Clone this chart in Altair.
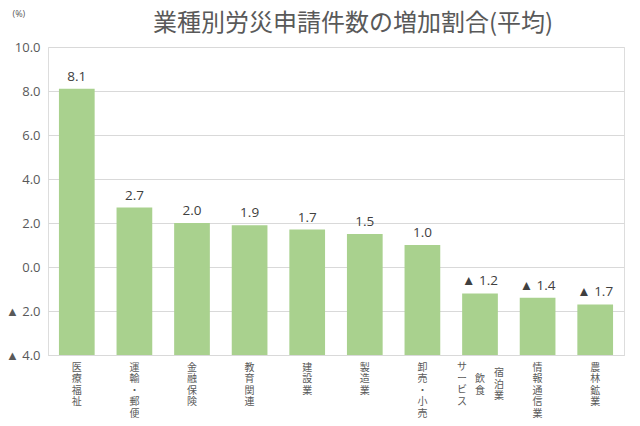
import altair as alt
import pandas as pd

categories = ["医療福祉", "運輸・郵便", "金融保険", "教育関連", "建設業",
              "製造業", "卸売・小売", "宿泊業、飲食サービス", "情報通信業", "農林鉱業"]
values = [8.1, 2.7, 2.0, 1.9, 1.7, 1.5, 1.0, -1.2, -1.4, -1.7]
y_ticks = [-4, -2, 0, 2, 4, 6, 8, 10]
special_category = "宿泊業、飲食サービス"
special_columns = ["サービス", "飲食", "宿泊業"]  # left, middle, right columns

df = pd.DataFrame({"category": categories, "value": values})
df["label"] = [f"▲ {abs(v):.1f}" if v < 0 else f"{v:.1f}" for v in values]

W, H = 576, 308
GRAY = "#595959"
FONT = "Open Sans"
CJK = "Noto Sans CJK JP"

x_enc = alt.X(
    "category:N", sort=categories,
    scale=alt.Scale(paddingInner=0.38, paddingOuter=0.19),
    axis=alt.Axis(
        title=None, labelAngle=0,
        labelExpr=f"datum.label == '{special_category}' ? '' : split(datum.label, '')",
        labelFont=CJK, labelFontSize=10, labelLineHeight=11.5, labelColor=GRAY,
        labelBaseline="top", labelPadding=7, ticks=False,
        domainColor="#d9d9d9", domainWidth=1, labelLimit=0,
    ),
)

y_enc = alt.Y(
    "value:Q",
    scale=alt.Scale(domain=[-4, 10], nice=False, zero=False),
    axis=alt.Axis(
        values=y_ticks,
        labelExpr="datum.value < 0 ? '▲ ' + format(-datum.value, '.1f') : format(datum.value, '.1f')",
        grid=True, gridColor="#d9d9d9", domain=False, ticks=False,
        labelPadding=8, labelFontSize=13, labelColor=GRAY, labelFont=FONT,
        title="(%)", titleAngle=0, titleAlign="left", titleBaseline="middle",
        titleX=-36, titleY=-34, titleFontSize=9, titleFontWeight="normal",
        titleColor=GRAY, titleFont=FONT,
    ),
)

base = alt.Chart(df)

bars = base.mark_bar(color="#a9d18e").encode(x=x_enc, y=y_enc, y2=alt.datum(-4))

value_labels = base.mark_text(
    baseline="bottom", dy=-5, fontSize=13.5, color="#404040", font=FONT
).encode(x=alt.X("category:N", sort=categories), y="value:Q", text="label:N")

special = base.transform_filter(alt.datum.category == special_category)
col_dx = [-18, 0, 19]
col_top = [7, 19, 13]
special_layers = [
    special.mark_text(
        baseline="top", dx=dx, fontSize=10, lineHeight=11.5, color=GRAY, font=CJK
    ).encode(
        x=alt.X("category:N", sort=categories),
        y=alt.value(H + top),
        text=alt.value(list(col)),
    )
    for col, dx, top in zip(special_columns, col_dx, col_top)
]

chart = alt.layer(bars, value_labels, *special_layers).properties(
    width=W, height=H,
    title=alt.TitleParams(
        "業種別労災申請件数の増加割合(平均)", fontSize=24, color=GRAY, font=CJK,
        fontWeight="normal", anchor="middle", offset=-27, dx=17,
    ),
    autosize=alt.AutoSizeParams(type="none"),
    padding={"left": 48, "top": 47, "right": 16, "bottom": 71},
).configure_view(stroke=None).configure(background="white")

chart.save("out.html", embed_options={"renderer": "svg", "actions": False})
